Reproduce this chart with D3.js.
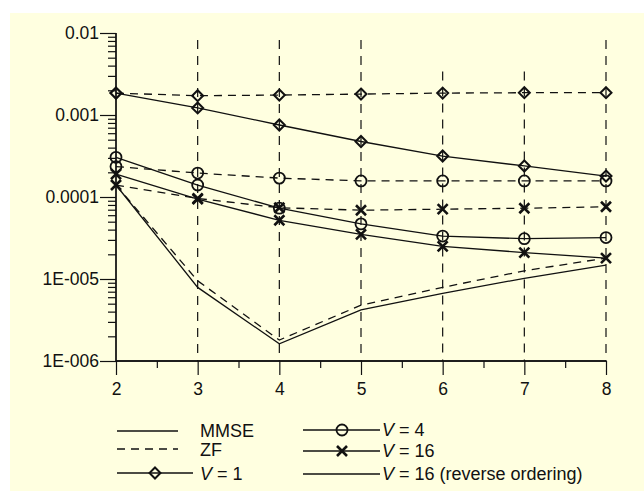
<!DOCTYPE html>
<html><head><meta charset="utf-8">
<script src="https://cdn.jsdelivr.net/npm/d3@7"></script>
<style>body{margin:0;background:#fff}svg{display:block}</style>
</head><body>
<svg id="c" width="644" height="491"></svg>
<script>
const xs = [2,3,4,5,6,7,8];
const v1MMSE  = [1.85e-3,1.22e-3,7.55e-4,4.75e-4,3.16e-4,2.39e-4,1.8e-4];
const v1ZF    = [1.85e-3,1.72e-3,1.75e-3,1.8e-3,1.85e-3,1.87e-3,1.87e-3];
const v4MMSE  = [3.05e-4,1.40e-4,7.3e-5,4.7e-5,3.34e-5,3.1e-5,3.2e-5];
const v4ZF    = [2.35e-4,1.96e-4,1.7e-4,1.57e-4,1.57e-4,1.57e-4,1.57e-4];
const v16MMSE = [1.9e-4,9.4e-5,5.2e-5,3.5e-5,2.5e-5,2.1e-5,1.8e-5];
const v16ZF   = [1.4e-4,9.6e-5,7.4e-5,6.9e-5,7.1e-5,7.3e-5,7.6e-5];
const revMMSE = [1.4e-4,7.9e-6,1.62e-6,4.2e-6,6.7e-6,1.02e-5,1.48e-5];
const revZF   = [1.4e-4,9.5e-6,1.8e-6,4.8e-6,7.9e-6,1.26e-5,1.8e-5];
const yTickVals = [1e-2,1e-3,1e-4,1e-5,1e-6];
const yTickLabels = ["0.01","0.001","0.0001","1E-005","1E-006"];
const gridX = [3,4,5,6,7,8];
const gridTop = [0.0082,0.0082,0.0082,0.0034,0.0034,0.0082];

const svg = d3.select("#c");
const FONT = "'Liberation Sans', Arial, sans-serif";
svg.append("rect").attr("x",10).attr("y",13).attr("width",634).attr("height",478).attr("fill","#ffffe0");

const x = d3.scaleLinear().domain([2,8]).range([116,606]);
const y = d3.scaleLog().domain([1e-6,1e-2]).range([361,33]);
const ink = "#111";

// grid
svg.append("g").selectAll("line").data(gridX).join("line")
  .attr("x1",d=>x(d)).attr("x2",d=>x(d))
  .attr("y1",(d,i)=>y(gridTop[i])).attr("y2",y(1e-6))
  .attr("stroke",ink).attr("stroke-width",1.2).attr("stroke-dasharray","9,7");

// y axis
const minorY = [];
for (let e=-6;e<-2;e++) for (let m=2;m<=9;m++) minorY.push(m*Math.pow(10,e));
const ya = svg.append("g").attr("transform","translate(116,0)");
ya.call(d3.axisLeft(y).tickValues(minorY).tickSize(8).tickFormat(""));
ya.append("g").call(d3.axisLeft(y).tickValues(yTickVals).tickSize(16).tickPadding(1).tickFormat((d,i)=>yTickLabels[i]));
ya.selectAll(".domain").attr("d","M0,"+y(1e-2)+"V"+y(1e-6)).attr("stroke",ink).attr("stroke-width",1.3);
ya.selectAll("line").attr("stroke",ink).attr("stroke-width",1.2);
ya.selectAll("text").attr("font-family",FONT).attr("font-size",17.5).attr("fill","#111");

// x axis
const xa = svg.append("g").attr("transform","translate(0,361)");
xa.call(d3.axisBottom(x).tickValues([2.5,3.5,4.5,5.5,6.5,7.5]).tickSize(7).tickFormat(""));
xa.append("g").call(d3.axisBottom(x).tickValues(xs).tickSize(14).tickPadding(8).tickFormat(d3.format("d")));
xa.selectAll(".domain").attr("d","M"+x(2)+",0H"+x(8)).attr("stroke",ink).attr("stroke-width",1.3);
xa.selectAll("line").attr("stroke",ink).attr("stroke-width",1.2);
xa.selectAll("text").attr("font-family",FONT).attr("font-size",17.5).attr("fill","#111");

const line = d3.line().x((d,i)=>x(xs[i])).y(d=>y(d));
const series = [
  {v:revMMSE,dash:null,m:null},{v:revZF,dash:"8,6",m:null},
  {v:v16MMSE,dash:null,m:"x"},{v:v16ZF,dash:"8,6",m:"x"},
  {v:v4MMSE,dash:null,m:"o"},{v:v4ZF,dash:"8,6",m:"o"},
  {v:v1MMSE,dash:null,m:"d"},{v:v1ZF,dash:"8,6",m:"d"}
];
const plot = svg.append("g");
function marker(g,type,cx,cy){
  if(type==="o") g.append("circle").attr("cx",cx).attr("cy",cy).attr("r",5.5).attr("fill","none").attr("stroke",ink).attr("stroke-width",1.8);
  else if(type==="d") g.append("path").attr("d",`M${cx},${cy-5.5}L${cx+5.5},${cy}L${cx},${cy+5.5}L${cx-5.5},${cy}Z`).attr("fill","none").attr("stroke",ink).attr("stroke-width",2);
  else if(type==="x") g.append("path").attr("d",`M${cx-5},${cy-5}L${cx+5},${cy+5}M${cx+5},${cy-5}L${cx-5},${cy+5}`).attr("stroke",ink).attr("stroke-width",2.6);
}
series.forEach(s=>{
  plot.append("path").attr("d",line(s.v)).attr("fill","none").attr("stroke",ink).attr("stroke-width",1.3)
    .attr("stroke-dasharray",s.dash);
  if(s.m) s.v.forEach((v,i)=>marker(plot,s.m,x(xs[i]),y(v)));
});

// legend
const lg = svg.append("g").attr("font-family",FONT).attr("font-size",18).attr("fill","#111");
function lline(x1,x2,yy,dash){lg.append("line").attr("x1",x1).attr("x2",x2).attr("y1",yy).attr("y2",yy).attr("stroke",ink).attr("stroke-width",1.3).attr("stroke-dasharray",dash);}
lline(117,178,431,null); lg.append("text").attr("x",200).attr("y",437).text("MMSE");
lline(117,178,449,"8,6"); lg.append("text").attr("x",200).attr("y",456).text("ZF");
lline(117,193,473,null); marker(lg,"d",155,473);
function vtext(xx,yy,rest){const t=lg.append("text").attr("x",xx).attr("y",yy);t.append("tspan").attr("font-style","italic").text("V");t.append("tspan").text(rest);}
vtext(200,480," = 1");
lline(303,380,430,null); marker(lg,"o",342,430); vtext(382,436," = 4");
lline(303,380,451,null); marker(lg,"x",342,451); vtext(382,457," = 16");
lline(303,380,474,null); vtext(382,480," = 16 (reverse ordering)");
</script>
</body></html>
